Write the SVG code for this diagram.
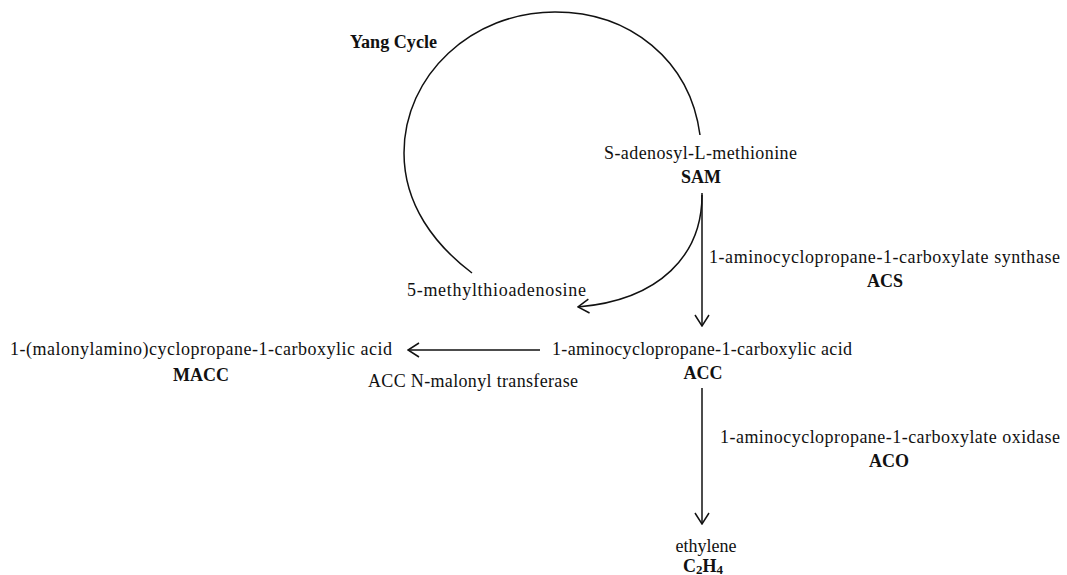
<svg xmlns="http://www.w3.org/2000/svg" width="1067" height="575" viewBox="0 0 1067 575" font-family="'Liberation Serif', 'Times New Roman', Times, serif">
<style>
text{font-family:'Liberation Serif','Times New Roman',Times,serif;font-size:18px;fill:#111}
.b{font-weight:bold}
.m{text-anchor:middle}
.ln{fill:none;stroke:#111;stroke-width:1.5}
</style>
<defs>
<marker id="ah" viewBox="-12 -8 13 16" markerUnits="userSpaceOnUse" markerWidth="13" markerHeight="16" refX="0" refY="0" orient="auto">
<path d="M-11,-7 L0,0 L-11,7" fill="none" stroke="#111" stroke-width="1.5"/>
</marker>
</defs>
<rect width="1067" height="575" fill="#fff"/>
<g id="connectors">
<path id="yang-arc" class="ln" d="M700,135 C690,60 630,12 555,12 C472,12 404,75 404,153 C404,205 435,245 472,273"/>
<path id="sam-mta" class="ln" d="M702,195 C702,255 660,300 578,307" marker-end="url(#ah)"/>
<path id="sam-acc" class="ln" d="M702,193 L702,326" marker-end="url(#ah)"/>
<path id="acc-macc" class="ln" d="M540,350 L408,350" marker-end="url(#ah)"/>
<path id="acc-eth" class="ln" d="M702,388 L702,524" marker-end="url(#ah)"/>
</g>
<g id="yang"><text class="b" x="350" y="48" textLength="87" lengthAdjust="spacingAndGlyphs">Yang Cycle</text></g>
<g id="sam">
<text x="604" y="159" textLength="193" lengthAdjust="spacing">S-adenosyl-L-methionine</text>
<text class="b m" x="701" y="183">SAM</text>
</g>
<g id="acs">
<text x="709" y="263" textLength="351" lengthAdjust="spacing">1-aminocyclopropane-1-carboxylate synthase</text>
<text class="b m" x="885" y="287">ACS</text>
</g>
<g id="mta"><text x="407" y="296" textLength="179" lengthAdjust="spacing">5-methylthioadenosine</text></g>
<g id="acc">
<text x="552" y="355" textLength="300" lengthAdjust="spacing">1-aminocyclopropane-1-carboxylic acid</text>
<text class="b m" x="703" y="379">ACC</text>
</g>
<g id="macc">
<text x="10" y="355" textLength="382" lengthAdjust="spacing">1-(malonylamino)cyclopropane-1-carboxylic acid</text>
<text class="b m" x="201" y="381">MACC</text>
</g>
<g id="transferase"><text x="368" y="387" textLength="210" lengthAdjust="spacing">ACC N-malonyl transferase</text></g>
<g id="aco">
<text x="720" y="443" textLength="340" lengthAdjust="spacing">1-aminocyclopropane-1-carboxylate oxidase</text>
<text class="b m" x="889" y="467">ACO</text>
</g>
<g id="ethylene">
<text class="m" x="706" y="552">ethylene</text>
<text class="b m" x="703" y="572">C<tspan font-size="13" dy="2">2</tspan><tspan dy="-2">H</tspan><tspan font-size="13" dy="2">4</tspan></text>
</g>
</svg>
